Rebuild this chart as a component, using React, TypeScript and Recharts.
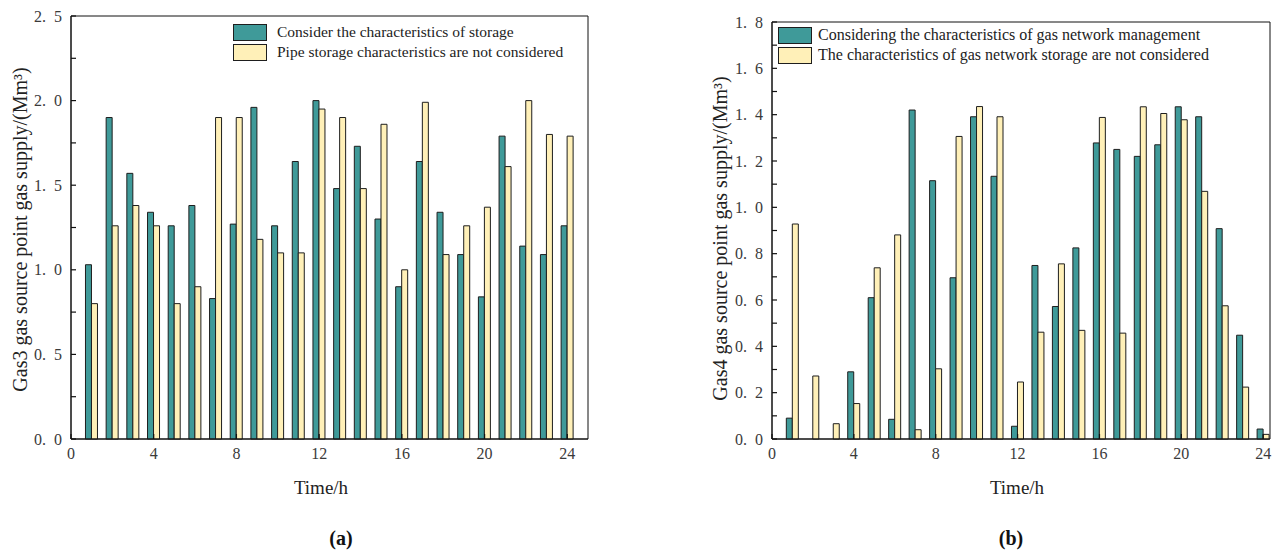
import React from "react";
import { BarChart, Bar, XAxis, YAxis, ReferenceArea } from "recharts";

// hours 1..24
const hours = [1, 2, 3, 4, 5, 6, 7, 8, 9, 10, 11, 12, 13, 14, 15, 16, 17, 18, 19, 20, 21, 22, 23, 24];

// (a) Gas3 source point supply, Mm³
const gas3WithStorage = [1.03, 1.9, 1.57, 1.34, 1.26, 1.38, 0.83, 1.27, 1.96, 1.26, 1.64, 2.0, 1.48, 1.73, 1.3, 0.9, 1.64, 1.34, 1.09, 0.84, 1.79, 1.14, 1.09, 1.26];
const gas3NoStorage = [0.8, 1.26, 1.38, 1.26, 0.8, 0.9, 1.9, 1.9, 1.18, 1.1, 1.1, 1.95, 1.9, 1.48, 1.86, 1.0, 1.99, 1.09, 1.26, 1.37, 1.61, 2.0, 1.8, 1.79];

// (b) Gas4 source point supply, Mm³
const gas4WithStorage = [0.09, 0, 0, 0.29, 0.61, 0.085, 1.42, 1.115, 0.696, 1.391, 1.134, 0.055, 0.749, 0.572, 0.825, 1.278, 1.25, 1.22, 1.27, 1.434, 1.391, 0.908, 0.448, 0.043];
const gas4NoStorage = [0.928, 0.272, 0.066, 0.153, 0.739, 0.881, 0.04, 0.303, 1.306, 1.435, 1.391, 0.246, 0.461, 0.756, 0.469, 1.388, 0.457, 1.434, 1.405, 1.378, 1.069, 0.575, 0.224, 0.02];

const xTicks = [0, 4, 8, 12, 16, 20, 24];
const yTicksA = [0, 0.25, 0.5, 0.75, 1, 1.25, 1.5, 1.75, 2, 2.25, 2.5];
const yTicksB = [0, 0.1, 0.2, 0.3, 0.4, 0.5, 0.6, 0.7, 0.8, 0.9, 1.0, 1.1, 1.2, 1.3, 1.4, 1.5, 1.6, 1.7, 1.8];

const seriesA = ["Consider the characteristics of storage", "Pipe storage characteristics are not considered"];
const seriesB = ["Considering the characteristics of gas network management", "The characteristics of gas network storage are not considered"];

const TEAL = "#3f9a99";
const CREAM = "#fff0b8";
const EDGE = "#1e1e1e";
const FONT = "'Liberation Serif', 'Times New Roman', serif";

const dataA = hours.map((h, i) => ({ hour: h, a: gas3WithStorage[i], b: gas3NoStorage[i] }));
const dataB = hours.map((h, i) => ({ hour: h, a: gas4WithStorage[i], b: gas4NoStorage[i] }));

const fmt = (v: number) => v.toFixed(1).replace(".", ".\u2002");

// y tick: inward tick mark, label only on major steps
const renderYTick = (gap: number, step: number) => (props: any) => {
  const { x, y, payload } = props;
  const v = payload.value;
  const axisX = x + gap;
  const major = Math.abs(v / step - Math.round(v / step)) < 1e-6;
  return (
    <g>
      <line x1={axisX} x2={axisX + 5} y1={y} y2={y} stroke="#111" strokeWidth={1.2} />
      {major && (
        <text x={x} y={y} dy="0.35em" textAnchor="end" fill="#3a3a3a" fontSize={16} fontFamily={FONT}>
          {fmt(v)}
        </text>
      )}
    </g>
  );
};

const renderXTick = (gap: number) => (props: any) => {
  const { x, y, payload } = props;
  const axisY = y - gap;
  return (
    <g>
      <line x1={x} x2={x} y1={axisY} y2={axisY - 5} stroke="#111" strokeWidth={1.2} />
      <text x={x} y={y} dy="0.8em" textAnchor="middle" fill="#3a3a3a" fontSize={16} fontFamily={FONT}>
        {payload.value}
      </text>
    </g>
  );
};

const LegendBox = ({ names, size, gap, left, top }: { names: string[]; size: number; gap: number; left: number; top: number }) => (
  <div style={{ position: "absolute", left, top, fontFamily: FONT, fontSize: size, color: "#222", lineHeight: "20px" }}>
    {names.map((n, i) => (
      <div key={n} style={{ display: "flex", alignItems: "center", height: 20 }}>
        <span style={{
          display: "inline-block", width: 32, height: 15, marginRight: gap,
          background: i === 0 ? TEAL : CREAM, border: `1.5px solid ${EDGE}`,
        }} />
        <span style={{ whiteSpace: "nowrap" }}>{n}</span>
      </div>
    ))}
  </div>
);

const yTitle = (text: string, cx: number, shift: number) => (props: any) => {
  const vb = props.viewBox;
  const cy = vb.y + vb.height / 2 + shift;
  return (
    <text x={cx} y={cy} transform={`rotate(-90 ${cx} ${cy})`} textAnchor="middle" dominantBaseline="central"
      fill="#222" fontSize={20} fontFamily={FONT}>
      {text}
    </text>
  );
};

const xTitle = (cx: number) => (props: any) => {
  const vb = props.viewBox;
  return (
    <text x={cx} y={vb.y + 55} textAnchor="middle" fill="#222" fontSize={19} fontFamily={FONT}>
      Time/h
    </text>
  );
};

export default function App() {
  return (
    <div style={{ position: "absolute", left: 0, top: 0, width: 1285, height: 557, background: "#fff", overflow: "hidden" }}>
      <div style={{ position: "absolute", left: 0, top: 0 }}>
        <BarChart width={640} height={557} data={dataA} margin={{ top: 16, right: 52, bottom: 88, left: 0 }}
          barCategoryGap="20%" barGap={0}>
          <XAxis type="number" dataKey="hour" domain={[0, 25]} ticks={xTicks} interval={0} height={30}
            tickSize={0} tickMargin={7} tickLine={false} axisLine={{ stroke: "#111" }}
            tick={renderXTick(7)} label={{ content: xTitle(321) }} />
          <YAxis type="number" domain={[0, 2.5]} ticks={yTicksA} interval={0} width={71}
            tickSize={0} tickMargin={9} tickLine={false} axisLine={{ stroke: "#111" }}
            tick={renderYTick(9, 0.5)}
            label={{ content: yTitle("Gas3 gas source point gas supply/(Mm³)", 20, 2) }} />
          <ReferenceArea x1={0} x2={25} y1={0} y2={2.5} fill="none" stroke="#111" strokeWidth={1} />
          <Bar dataKey="a" name={seriesA[0]} fill={TEAL} stroke={EDGE} strokeWidth={1} isAnimationActive={false} />
          <Bar dataKey="b" name={seriesA[1]} fill={CREAM} stroke={EDGE} strokeWidth={1} isAnimationActive={false} />
        </BarChart>
        <LegendBox names={seriesA} size={15.5} gap={10} left={233} top={22} />
      </div>
      <div style={{ position: "absolute", left: 640, top: 0 }}>
        <BarChart width={645} height={557} data={dataB} margin={{ top: 22, right: 15, bottom: 88, left: 0 }}
          barCategoryGap="20%" barGap={0}>
          <XAxis type="number" dataKey="hour" domain={[0, 24.33]} allowDataOverflow ticks={xTicks} interval={0} height={30}
            tickSize={0} tickMargin={7} tickLine={false} axisLine={{ stroke: "#111" }}
            tick={renderXTick(7)} label={{ content: xTitle(377) }} />
          <YAxis type="number" domain={[0, 1.8]} ticks={yTicksB} interval={0} width={132}
            tickSize={0} tickMargin={9} tickLine={false} axisLine={{ stroke: "#111" }}
            tick={renderYTick(9, 0.2)}
            label={{ content: yTitle("Gas4 gas source point gas supply/(Mm³)", 80, 8) }} />
          <ReferenceArea x1={0} x2={24.33} y1={0} y2={1.8} fill="none" stroke="#111" strokeWidth={1} />
          <Bar dataKey="a" name={seriesB[0]} fill={TEAL} stroke={EDGE} strokeWidth={1} isAnimationActive={false} />
          <Bar dataKey="b" name={seriesB[1]} fill={CREAM} stroke={EDGE} strokeWidth={1} isAnimationActive={false} />
        </BarChart>
        <LegendBox names={seriesB} size={16} gap={6} left={138} top={25} />
      </div>
      <div style={{ position: "absolute", left: 341, top: 538, transform: "translate(-50%, -50%)",
        fontFamily: FONT, fontSize: 20, fontWeight: "bold", color: "#111" }}>(a)</div>
      <div style={{ position: "absolute", left: 1011, top: 538, transform: "translate(-50%, -50%)",
        fontFamily: FONT, fontSize: 20, fontWeight: "bold", color: "#111" }}>(b)</div>
    </div>
  );
}
